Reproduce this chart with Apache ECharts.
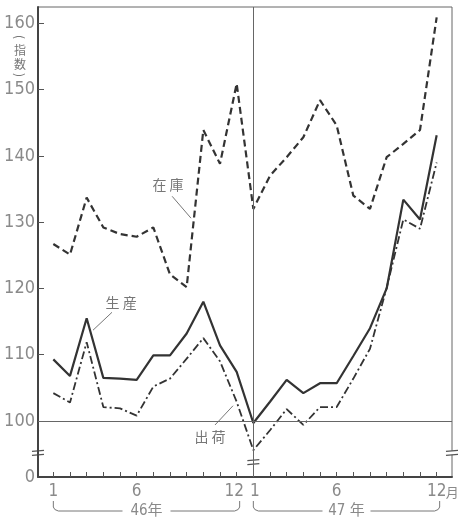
<!DOCTYPE html>
<html><head><meta charset="utf-8">
<script src="https://cdn.jsdelivr.net/npm/echarts@6/dist/echarts.min.js"></script>
<style>html,body{margin:0;padding:0;background:#fff}#c{width:458px;height:518px}</style>
</head><body><div id="c"></div>
<script>
// month index 0..23 : 46年1月..12月, 47年1月..12月
const monthIndex = [0,1,2,3,4,5,6,7,8,9,10,11,12,13,14,15,16,17,18,19,20,21,22,23];
const stock      = [126.7,125.1,133.7,129.2,128.2,127.8,129.2,122.1,120.2,143.9,138.8,150.9,
                    132.0,137.0,139.8,142.8,148.4,144.6,134.0,132.0,139.8,141.8,143.9,160.9];
const production = [109.3,106.8,115.5,106.5,106.4,106.2,109.9,109.9,113.2,118.0,111.4,107.4,
                    99.7,102.9,106.2,104.2,105.7,105.7,109.8,114.0,120.0,133.4,130.4,143.1];
const shipment   = [104.2,102.8,111.9,102.1,101.9,100.8,105.2,106.4,109.4,112.5,109.0,102.9,
                    95.6,98.6,101.8,99.4,102.1,102.1,106.4,110.9,120.1,130.4,129.0,139.0];
const yTickValues = [100,110,120,130,140,150,160];
const xLabelIdx = [0,5,11,12,17,23];
const xLabelText = ['1','6','{r|12}','{l|1}','6','12'];
const yearLabels = ['46年','47 年'];
const seriesNames = ['在 庫','生 産','出 荷'];
const unitChars = ['(','指','数',')'];

const Y_MIN = 91.55, Y_MAX = 162.46, X_MIN = -0.92, X_MAX = 23.92;
const NUM_FONT = '"Liberation Sans Narrow","DejaVu Sans Condensed",sans-serif';
const CJK_FONT = '"Noto Sans CJK JP",sans-serif';
const INK = '#333';
const LABEL = '#8a8a8a';

const chart = echarts.init(document.getElementById('c'), null, {renderer:'canvas'});
const pairs = arr => arr.map((v,i)=>[monthIndex[i], v]);

chart.setOption({
  animation:false,
  backgroundColor:'#fff',
  grid:{left:38,right:6,top:7,bottom:41,show:true,borderColor:'#666',borderWidth:1},
  xAxis:{type:'value',min:X_MIN,max:X_MAX,
    axisLine:{show:true,onZero:false,lineStyle:{color:'#444',width:2}},
    axisTick:{show:true,inside:true,length:5,customValues:monthIndex,lineStyle:{color:'#555',width:1}},
    axisLabel:{customValues:xLabelIdx,margin:6,color:LABEL,fontFamily:NUM_FONT,fontSize:17,
      rich:{r:{padding:[0,5,0,0],color:LABEL,fontFamily:NUM_FONT,fontSize:17},
            l:{padding:[0,0,0,3],color:LABEL,fontFamily:NUM_FONT,fontSize:17}},
      formatter:v=>xLabelText[xLabelIdx.indexOf(Math.round(v))]},
    splitLine:{show:false}},
  yAxis:{type:'value',min:Y_MIN,max:Y_MAX,
    axisLine:{show:true,onZero:false,lineStyle:{color:'#444',width:2}},
    axisTick:{show:true,inside:true,length:6,customValues:yTickValues,lineStyle:{color:'#555',width:1}},
    axisLabel:{customValues:[Y_MIN].concat(yTickValues),margin:3,color:LABEL,fontFamily:NUM_FONT,fontSize:18,
      formatter:v=>v<99?'0':String(Math.round(v))},
    splitLine:{show:false}},
  series:[
    {name:seriesNames[0],type:'line',data:pairs(stock),showSymbol:false,
     lineStyle:{color:INK,width:2.2,type:[7,4]}},
    {name:seriesNames[1],type:'line',data:pairs(production),showSymbol:false,
     lineStyle:{color:INK,width:2.2,type:'solid'},
     markLine:{silent:true,symbol:'none',label:{show:false},
       lineStyle:{color:'#666',width:1,type:'solid'},
       data:[{xAxis:12},{yAxis:100}]}},
    {name:seriesNames[2],type:'line',data:pairs(shipment),showSymbol:false,
     lineStyle:{color:INK,width:1.8,type:[8,3,2,3]}}
  ]
});

const px = (x,y)=>chart.convertToPixel({gridIndex:0},[x,y]);
const g = [];
// annotations: [text, labelPos, leaderFrom, leaderTo] in data coords
const notes = [
  [seriesNames[0],[6.88,135.6],[7.13,133.9],[8.26,130.6]],
  [seriesNames[1],[4.07,117.8],[3.52,116.4],[2.38,113.7]],
  [seriesNames[2],[9.4,97.7],[9.7,99.4],[10.78,102.3]]
];
notes.forEach(n=>{
  const p=px(n[1][0],n[1][1]), a=px(n[2][0],n[2][1]), b=px(n[3][0],n[3][1]);
  g.push({type:'text',x:p[0],y:p[1],style:{text:n[0],fill:'#777',font:'14px '+CJK_FONT,align:'center',verticalAlign:'middle'}});
  g.push({type:'line',shape:{x1:a[0],y1:a[1],x2:b[0],y2:b[1]},style:{stroke:'#777',lineWidth:1}});
});
// axis break marks
[[X_MIN,95.2],[12,93.8],[X_MAX,95.2]].forEach(b=>{
  const p=px(b[0],b[1]);
  g.push({type:'rect',shape:{x:p[0]-4,y:p[1]-2,width:8,height:4},style:{fill:'#fff'}});
  g.push({type:'line',shape:{x1:p[0]-6,y1:p[1]-1.5,x2:p[0]+6,y2:p[1]-2.5},style:{stroke:'#555',lineWidth:1.2}});
  g.push({type:'line',shape:{x1:p[0]-6,y1:p[1]+2.5,x2:p[0]+6,y2:p[1]+1.5},style:{stroke:'#555',lineWidth:1.2}});
});
// "月" after last label
const last=px(23,Y_MIN);
g.push({type:'text',x:last[0]+9,y:last[1]+15,style:{text:'月',fill:LABEL,font:'13px '+CJK_FONT,align:'left',verticalAlign:'middle'}});
// year brackets
[[0,11],[12,23]].forEach((r,k)=>{
  const a=px(r[0],Y_MIN), b=px(r[1],Y_MIN);
  const x0=a[0], x1=b[0]+3, yT=a[1]+24, yB=a[1]+34, mid=(x0+x1)/2, half=24;
  g.push({type:'polyline',shape:{points:[[x0,yT],[x0,yB-4],[x0+1.5,yB-1.5],[x0+5,yB],[mid-half,yB]]},
    style:{stroke:'#777',lineWidth:1,fill:null}});
  g.push({type:'polyline',shape:{points:[[mid+half,yB],[x1-5,yB],[x1-1.5,yB-1.5],[x1,yB-4],[x1,yT]]},
    style:{stroke:'#777',lineWidth:1,fill:null}});
  g.push({type:'text',x:mid,y:yB,style:{text:yearLabels[k],fill:LABEL,font:'15px '+NUM_FONT+',"Noto Sans CJK JP"',align:'center',verticalAlign:'middle'}});
});
// y-axis unit (vertical)
const unitY = [37,50,64,75];
unitChars.forEach((c,i)=>{
  const isParen = (c==='('||c===')');
  g.push({type:'text',x:20,y:unitY[i],rotation:isParen?-Math.PI/2:0,
    style:{text:c,fill:'#777',font:(isParen?'12px ':'12px ')+CJK_FONT,align:'center',verticalAlign:'middle'}});
});
chart.setOption({graphic:g});
</script></body></html>
